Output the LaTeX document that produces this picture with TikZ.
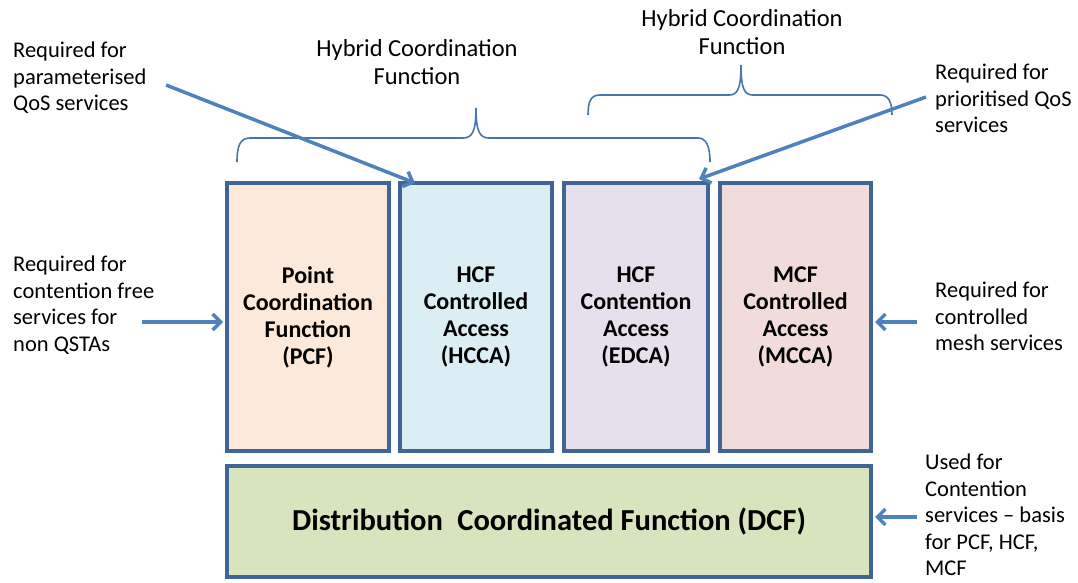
\documentclass[tikz,border=0pt]{standalone}
\usepackage{fontspec}
\setmainfont{Carlito}
\usetikzlibrary{arrows.meta,calc}
\definecolor{edge}{HTML}{3F6496}
\definecolor{arrowc}{HTML}{4F81BD}
\definecolor{bracec}{HTML}{4A74AA}
\definecolor{pcffill}{HTML}{FDE9D9}
\definecolor{hccafill}{HTML}{DBEEF4}
\definecolor{edcafill}{HTML}{E5E0EC}
\definecolor{mccafill}{HTML}{F2DCDB}
\definecolor{dcffill}{HTML}{D7E4BD}
\begin{document}
\begin{tikzpicture}[x=1pt,y=-1pt,
 box/.style={draw=edge, line width=4pt, inner sep=0pt, outer sep=0pt, anchor=north west, align=center, font=\bfseries\fontsize{24}{27}\selectfont},
 sidelabel/.style={anchor=north west, align=left, inner sep=0pt, font=\fontsize{22.5}{26.5}\selectfont},
 hyblabel/.style={anchor=north, align=center, inner sep=0pt, font=\fontsize{24.5}{28}\selectfont},
 conn/.style={draw=arrowc, line width=3.5pt, -{Straight Barb[length=8pt,width=16pt]}},
 bracepath/.style={draw=bracec, line width=1.6pt}]
\useasboundingbox (0,0) rectangle (1078,583);

% boxes
\node[box, fill=pcffill, minimum width=162pt, minimum height=268pt] (pcf) at (227,183) {Point\\Coordination\\Function\\(PCF)};
\node[box, fill=hccafill, minimum width=152pt, minimum height=268pt] (hcca) at (400,183) {HCF\\Controlled\\Access\\(HCCA)};
\node[box, fill=edcafill, minimum width=144pt, minimum height=268pt] (edca) at (564,183) {HCF\\Contention\\Access\\(EDCA)};
\node[box, fill=mccafill, minimum width=151pt, minimum height=268pt] (mcca) at (720,183) {MCF\\Controlled\\Access\\(MCCA)};
\node[box, fill=dcffill, minimum width=644pt, minimum height=111pt, font=\bfseries\fontsize{30.5}{33}\selectfont] (dcf) at (227,466) {\raisebox{-3pt}{Distribution\hspace{0.25em} Coordinated Function (DCF)}};

% labels
\node[hyblabel] (hyb1) at (417,39) {Hybrid Coordination\\Function};
\node[hyblabel] (hyb2) at (742,9) {Hybrid Coordination\\Function};
\node[sidelabel] (lpar) at (13,42) {Required for\\parameterised\\QoS services};
\node[sidelabel] (lpri) at (935,64) {Required for\\prioritised QoS\\services};
\node[sidelabel] (lcf) at (13,256) {Required for\\contention free\\services for\\non QSTAs};
\node[sidelabel] (lmesh) at (935,282) {Required for\\controlled\\mesh services};
\node[sidelabel] (ldcf) at (925,454) {Used for\\Contention\\services -- basis\\for PCF, HCF,\\MCF};

% braces
\draw[bracepath] (237,162) .. controls (237,146) and (240,138) .. (250,138) -- (463,138)
  .. controls (472,138) and (476,132) .. (476,108)
  .. controls (476,132) and (480,138) .. (489,138) -- (698,138)
  .. controls (706,138) and (710,146) .. (710,162);
\draw[bracepath] (588,115) .. controls (588,101) and (591,95) .. (600,95) -- (729,95)
  .. controls (737,95) and (741,90) .. (741,65)
  .. controls (741,90) and (745,95) .. (753,95) -- (880,95)
  .. controls (888,95) and (892,101) .. (892,115);

% connectors
\coordinate (a1) at (166,85);
\draw[conn] (a1) -- ([xshift=15pt]hcca.north west);
\coordinate (a2) at (926,97);
\draw[conn] (a2) -- ([xshift=-9pt,yshift=4pt]edca.north east);
\coordinate (a3) at (142,322);
\coordinate (a3e) at (a3 -| pcf.west);
\draw[conn] (a3) -- ([xshift=-4pt]a3e);
\coordinate (a4) at (917,322);
\coordinate (a4e) at (a4 -| mcca.east);
\draw[conn] (a4) -- ([xshift=4pt]a4e);
\coordinate (a5) at (917,517);
\coordinate (a5e) at (a5 -| dcf.east);
\draw[conn] (a5) -- ([xshift=4pt]a5e);
\end{tikzpicture}
\end{document}
